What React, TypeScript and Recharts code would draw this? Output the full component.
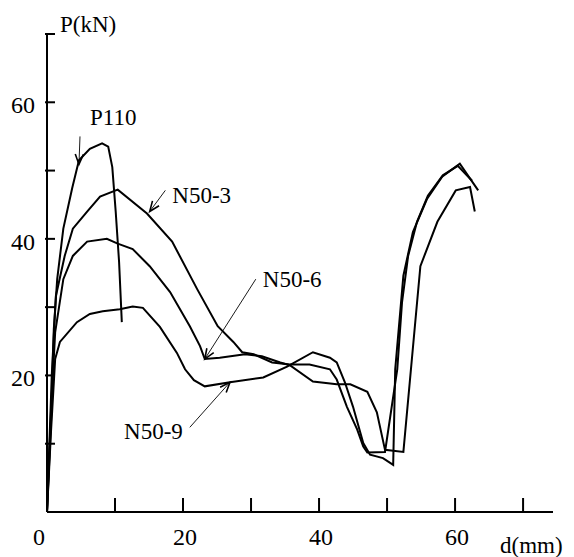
import { LineChart, Line, XAxis, YAxis, ReferenceLine } from "recharts";

// load-displacement curves, d (mm) vs P (kN)
const p110 = [
  { x: 0, y: 0 }, { x: 0.6, y: 13.5 }, { x: 1.0, y: 26.8 }, { x: 1.5, y: 34.1 },
  { x: 2.4, y: 41.5 }, { x: 3.7, y: 47.4 }, { x: 4.7, y: 51.5 }, { x: 6.3, y: 53.2 },
  { x: 8.1, y: 54.0 }, { x: 9.0, y: 53.5 }, { x: 9.6, y: 50.5 }, { x: 10.1, y: 44.0 },
  { x: 10.6, y: 36.6 }, { x: 11.0, y: 27.8 },
];

const n503 = [
  { x: 0, y: 0 }, { x: 0.7, y: 20.0 }, { x: 1.3, y: 31.6 }, { x: 2.6, y: 37.5 },
  { x: 3.8, y: 41.5 }, { x: 5.9, y: 44.0 }, { x: 7.8, y: 46.2 }, { x: 10.4, y: 47.2 },
  { x: 14.7, y: 43.7 }, { x: 18.4, y: 39.6 }, { x: 22.1, y: 32.6 }, { x: 25.1, y: 27.2 },
  { x: 27.4, y: 24.9 }, { x: 28.7, y: 23.4 }, { x: 30.4, y: 23.1 }, { x: 33.1, y: 21.9 },
  { x: 35.7, y: 21.6 }, { x: 38.6, y: 21.6 }, { x: 41.6, y: 20.9 }, { x: 42.6, y: 19.4 },
  { x: 44.1, y: 15.4 }, { x: 45.6, y: 12.1 }, { x: 46.5, y: 9.6 }, { x: 47.1, y: 8.7 },
  { x: 49.7, y: 8.8 }, { x: 51.5, y: 20.9 }, { x: 52.2, y: 30.7 }, { x: 53.1, y: 37.5 },
  { x: 54.4, y: 42.5 }, { x: 56.0, y: 46.3 }, { x: 58.2, y: 49.3 }, { x: 60.4, y: 50.7 },
  { x: 62.5, y: 48.5 },
];

const n506 = [
  { x: 0, y: 0 }, { x: 0.6, y: 15.0 }, { x: 1.2, y: 26.3 }, { x: 2.4, y: 34.1 },
  { x: 3.8, y: 37.5 }, { x: 5.9, y: 39.6 }, { x: 8.8, y: 40.0 }, { x: 10.4, y: 39.3 },
  { x: 12.6, y: 38.5 }, { x: 15.1, y: 36.0 }, { x: 18.1, y: 32.2 }, { x: 21.0, y: 27.2 },
  { x: 22.5, y: 24.3 }, { x: 23.2, y: 22.4 }, { x: 25.4, y: 22.6 }, { x: 29.1, y: 23.1 },
  { x: 31.6, y: 22.8 }, { x: 34.3, y: 21.9 }, { x: 35.7, y: 21.5 }, { x: 39.1, y: 19.1 },
  { x: 42.6, y: 18.7 }, { x: 44.6, y: 18.7 }, { x: 47.1, y: 17.6 }, { x: 48.5, y: 14.6 },
  { x: 49.7, y: 9.1 }, { x: 52.4, y: 8.8 }, { x: 54.9, y: 36.0 }, { x: 57.4, y: 42.5 },
  { x: 60.1, y: 47.1 }, { x: 62.2, y: 47.6 }, { x: 62.9, y: 44.0 },
];

const n509 = [
  { x: 0, y: 0 }, { x: 0.6, y: 12.0 }, { x: 1.2, y: 22.4 }, { x: 1.9, y: 24.9 },
  { x: 4.4, y: 27.8 }, { x: 6.3, y: 29.0 }, { x: 8.2, y: 29.4 }, { x: 10.7, y: 29.7 },
  { x: 12.6, y: 30.1 }, { x: 14.1, y: 29.9 }, { x: 16.6, y: 27.1 }, { x: 19.1, y: 23.3 },
  { x: 20.3, y: 20.9 }, { x: 21.6, y: 19.3 }, { x: 23.2, y: 18.4 }, { x: 26.9, y: 19.0 },
  { x: 31.8, y: 19.7 }, { x: 35.3, y: 21.3 }, { x: 39.1, y: 23.4 }, { x: 41.6, y: 22.6 },
  { x: 42.6, y: 21.9 }, { x: 43.8, y: 19.0 }, { x: 45.0, y: 15.4 }, { x: 46.5, y: 10.1 },
  { x: 47.5, y: 8.4 }, { x: 49.4, y: 7.9 }, { x: 50.9, y: 6.9 }, { x: 51.2, y: 20.9 },
  { x: 52.4, y: 34.6 }, { x: 53.8, y: 41.0 }, { x: 55.9, y: 45.9 }, { x: 58.1, y: 49.1 },
  { x: 60.7, y: 51.0 }, { x: 63.4, y: 47.1 },
];

const xTicks = [0, 10, 20, 30, 40, 50, 60, 70];
const xLabels = [0, 20, 40, 60];
const yTicks = [0, 10, 20, 30, 40, 50, 60, 70];
const yLabels = [20, 40, 60];

// curve labels with pointer arrows (from -> to, in data units)
const notes = [
  { text: "P110", from: { x: 4.85, y: 55.0 }, to: { x: 4.7, y: 50.9 }, dx: 10, dy: -11, anchor: "start" },
  { text: "N50-3", from: { x: 17.4, y: 47.1 }, to: { x: 15.1, y: 44.0 }, dx: 7, dy: 13, anchor: "start" },
  { text: "N50-6", from: { x: 30.7, y: 34.1 }, to: { x: 23.2, y: 22.4 }, dx: 7, dy: 8, anchor: "start" },
  { text: "N50-9", from: { x: 21.0, y: 12.4 }, to: { x: 26.9, y: 19.0 }, dx: -7, dy: 12, anchor: "end" },
];

const txt = { fontFamily: "Liberation Serif, serif", fill: "#000" };

const XTick = ({ x, y, payload }: any) => (
  <g>
    {payload.value > 0 && <line x1={x} x2={x} y1={y} y2={y - 14} stroke="#000" strokeWidth={2} />}
    {xLabels.includes(payload.value) && (
      <text x={payload.value === 0 ? x - 8 : x + 2} y={y + 33} textAnchor="middle" fontSize={24} style={txt}>
        {payload.value}
      </text>
    )}
  </g>
);

const YTick = ({ x, y, payload }: any) => (
  <g>
    {payload.value > 0 && <line x1={x - 2} x2={x + 8} y1={y} y2={y} stroke="#000" strokeWidth={2} />}
    {yLabels.includes(payload.value) && (
      <text x={x - 12} y={y + 11} textAnchor="end" fontSize={24} style={txt}>
        {payload.value}
      </text>
    )}
  </g>
);

const arrowShape = (note: any) => (props: any) => {
  const { x1, y1, x2, y2 } = props;
  if (x1 == null || y1 == null) return null;
  const a = Math.atan2(y2 - y1, x2 - x1);
  const L = 11;
  const s = 0.38;
  return (
    <g>
      <line x1={x1} y1={y1} x2={x2} y2={y2} stroke="#000" strokeWidth={0.9} />
      <polyline
        points={`${x2 - L * Math.cos(a - s)},${y2 - L * Math.sin(a - s)} ${x2},${y2} ${x2 - L * Math.cos(a + s)},${y2 - L * Math.sin(a + s)}`}
        fill="none"
        stroke="#000"
        strokeWidth={1.6}
      />
      <text x={x1 + note.dx} y={y1 + note.dy} textAnchor={note.anchor} fontSize={23} style={txt}>
        {note.text}
      </text>
    </g>
  );
};

const series = [
  { name: "P110", data: p110 },
  { name: "N50-3", data: n503 },
  { name: "N50-6", data: n506 },
  { name: "N50-9", data: n509 },
];

export default function App() {
  return (
    <div style={{ width: 574, height: 557, background: "#fff" }}>
      <style>{"body{margin:0;background:#fff}"}</style>
      <LineChart width={574} height={557} margin={{ top: 34, right: 21, bottom: 44, left: 46 }}>
        <XAxis
          type="number"
          dataKey="x"
          domain={[0, 74.4]}
          ticks={xTicks}
          allowDataOverflow
          height={1}
          tickSize={0}
          tickMargin={0}
          tickLine={false}
          tick={<XTick />}
          axisLine={{ stroke: "#000", strokeWidth: 2 }}
          label={({ viewBox }: any) => (
            <text x={viewBox.x + viewBox.width - 53} y={viewBox.y + 41} fontSize={23} style={txt}>
              d(mm)
            </text>
          )}
        />
        <YAxis
          type="number"
          dataKey="y"
          domain={[0, 70]}
          ticks={yTicks}
          allowDataOverflow
          width={1}
          tickSize={0}
          tickMargin={0}
          tickLine={false}
          tick={<YTick />}
          axisLine={{ stroke: "#000", strokeWidth: 2 }}
          label={({ viewBox }: any) => (
            <text x={viewBox.x + 14} y={viewBox.y - 2} fontSize={23} style={txt}>
              P(kN)
            </text>
          )}
        />
        {series.map((s) => (
          <Line
            key={s.name}
            name={s.name}
            data={s.data}
            dataKey="y"
            type="linear"
            stroke="#000"
            strokeWidth={2}
            dot={false}
            isAnimationActive={false}
          />
        ))}
        {notes.map((n) => (
          <ReferenceLine
            key={n.text}
            segment={[n.from, n.to]}
            ifOverflow="visible"
            shape={arrowShape(n)}
          />
        ))}
      </LineChart>
    </div>
  );
}
